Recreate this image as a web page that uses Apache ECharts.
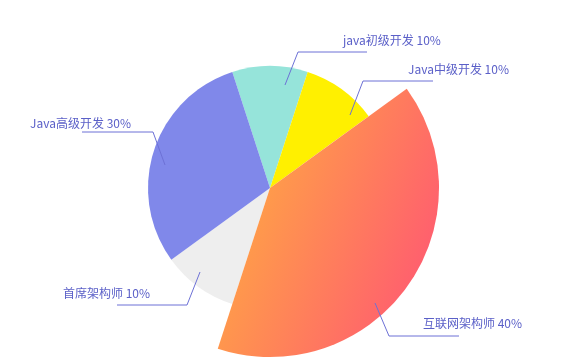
<!DOCTYPE html>
<html>
<head>
<meta charset="utf-8">
<style>
  html, body { margin: 0; padding: 0; background: #ffffff; }
  #chart { width: 566px; height: 361px; }
</style>
<script src="https://cdn.jsdelivr.net/npm/echarts@6/dist/echarts.min.js"></script>
</head>
<body>
<div id="chart"></div>
<script>
// Course levels and their share (percent)
const categories = ['java初级开发', 'Java中级开发', '互联网架构师', '首席架构师', 'Java高级开发'];
const shares = [10, 10, 40, 10, 30];
// The highlighted category drawn with a wider radius
const featured = '互联网架构师';

// Pie geometry
const CX = 270, CY = 188;
const R_BASE = 122, R_FEATURED = 169;

const sliceColors = {
  'java初级开发': '#96e4da',
  'Java中级开发': '#fff000',
  '首席架构师': '#eeeeee',
  'Java高级开发': '#8088ea'
};
const featuredColor = new echarts.graphic.LinearGradient(0, 0.79, 0.8, 1.05, [
  { offset: 0, color: '#ff9c4a' },
  { offset: 1, color: '#ff5c70' }
]);

// Leader-line routing for each label, offsets from the pie centre:
// start point, elbow, end of the horizontal run, and the text anchor.
const labelGuides = {
  'java初级开发': { start: [15, -103], elbow: [28, -136], endX: 97,   text: [73, -148],  align: 'left' },
  'Java中级开发': { start: [80, -73],  elbow: [93, -107], endX: 163,  text: [138, -119], align: 'left' },
  '互联网架构师': { start: [105, 115], elbow: [119, 148], endX: 189,  text: [153, 135],  align: 'left' },
  '首席架构师':   { start: [-70, 84],  elbow: [-83, 117], endX: -153, text: [-120, 105], align: 'right' },
  'Java高级开发': { start: [-105, -23], elbow: [-117, -56], endX: -188, text: [-139, -65], align: 'right' }
};

function layoutLabel(params) {
  const g = labelGuides[categories[params.dataIndex]];
  return {
    x: CX + g.text[0],
    y: CY + g.text[1],
    align: g.align,
    verticalAlign: 'middle',
    labelLinePoints: [
      [CX + g.start[0], CY + g.start[1]],
      [CX + g.elbow[0], CY + g.elbow[1]],
      [CX + g.endX, CY + g.elbow[1]]
    ]
  };
}

const hidden = { color: 'rgba(0,0,0,0)' };

const common = {
  type: 'pie',
  center: [CX, CY],
  startAngle: 108,
  clockwise: true,
  avoidLabelOverlap: false,
  animation: false,
  silent: true,
  itemStyle: { borderWidth: 0 },
  emphasis: { disabled: true }
};

// Base ring: every category except the featured one
const baseData = categories.map((name, i) => ({
  name,
  value: shares[i],
  itemStyle: name === featured ? hidden : { color: sliceColors[name] }
}));

// Outer ring: only the featured category is visible
const featuredData = categories.map((name, i) => ({
  name,
  value: shares[i],
  itemStyle: name === featured ? { color: featuredColor } : hidden
}));

// Label layer, drawn above both rings
const labelData = categories.map((name, i) => ({
  name,
  value: shares[i],
  itemStyle: hidden
}));

const chart = echarts.init(document.getElementById('chart'), null, { renderer: 'canvas' });
chart.setOption({
  backgroundColor: '#ffffff',
  series: [
    Object.assign({}, common, {
      z: 2, radius: [0, R_BASE], data: baseData,
      label: { show: false }, labelLine: { show: false }
    }),
    Object.assign({}, common, {
      z: 3, radius: [0, R_FEATURED], data: featuredData,
      label: { show: false }, labelLine: { show: false }
    }),
    Object.assign({}, common, {
      z: 4, radius: [0, R_BASE], data: labelData,
      label: {
        show: true,
        formatter: p => p.name + ' ' + p.value + '%',
        color: '#5b60c8',
        fontSize: 12,
        fontFamily: '"Noto Sans CJK SC", "Noto Sans", sans-serif'
      },
      labelLine: {
        show: true, length: 35, length2: 70, smooth: false,
        lineStyle: { color: '#6d71d6', width: 1 }
      },
      labelLayout: layoutLabel
    })
  ]
});
</script>
</body>
</html>
